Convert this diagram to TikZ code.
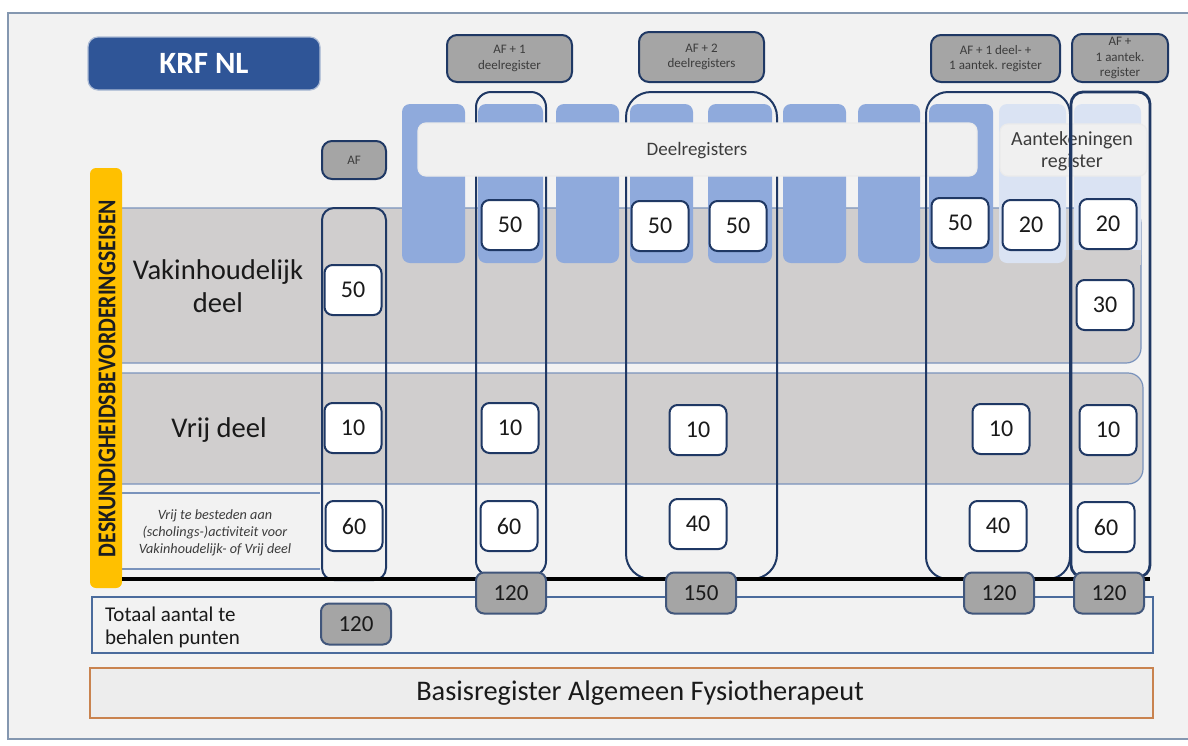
\documentclass[tikz,border=0pt]{standalone}
\usepackage{fontspec}
\usepackage{graphicx}
\setmainfont{Carlito}
\definecolor{bgc}{HTML}{F2F2F2}
\definecolor{framec}{HTML}{8497B0}
\definecolor{navy}{HTML}{1F3864}
\definecolor{krf}{HTML}{2F5597}
\definecolor{hdrgray}{HTML}{A5A5A5}
\definecolor{bandgray}{HTML}{D0CECE}
\definecolor{bandline}{HTML}{7A93BC}
\definecolor{colblue}{HTML}{8FAADC}
\definecolor{collight}{HTML}{DAE3F3}
\definecolor{yell}{HTML}{FFC000}
\definecolor{orng}{HTML}{C9834F}
\definecolor{basisfill}{HTML}{EDEDED}
\definecolor{lineblue}{HTML}{4A6B9C}
\definecolor{txt}{HTML}{1A1A1A}
\definecolor{bannerc}{HTML}{F0F0F0}
\begin{document}
\begin{tikzpicture}[x=0.5pt,y=-0.5pt,
  valbox/.style={draw=navy, line width=1pt, fill=white, rounded corners=4pt,
    minimum width=28.5pt, minimum height=25pt, inner sep=0pt, text=txt,
    font=\fontsize{12}{14}\selectfont},
  totbox/.style={draw=navy!85, line width=1pt, fill=hdrgray, rounded corners=4pt,
    minimum width=35pt, minimum height=20.5pt, inner sep=0pt, text=txt,
    font=\fontsize{11.5}{14}\selectfont},
  hdrbox/.style={draw=navy, line width=1pt, fill=hdrgray, rounded corners=5pt,
    inner sep=0pt, align=center, text=txt!85,
    font=\fontsize{6.5}{7.6}\selectfont},
  bluecol/.style={fill=colblue, rounded corners=4pt},
  lightcol/.style={fill=collight, rounded corners=4pt},
  outl/.style={draw=navy, line width=1pt},
  banner/.style={fill=bannerc, draw=black!8, line width=0.6pt, rounded corners=4pt},
  rowlabel/.style={text=txt, align=center, font=\fontsize{14.3}{16.5}\selectfont}
]
\useasboundingbox (0,0) rectangle (1188,745);
\fill[white] (0,0) rectangle (1188,745);
% outer frame
\draw[framec, fill=bgc, line width=0.8pt] (8,13) rectangle (1200,739);

% bands
\draw[bandline, fill=bandgray, line width=0.6pt, rounded corners=7.5pt] (100,208) rectangle (1141,363);
\draw[bandline, fill=bandgray, line width=0.6pt, rounded corners=7.5pt] (100,373) rectangle (1143,484);
% third row text box lines
\draw[bandline, line width=0.6pt] (122,493) -- (320,493);
\draw[bandline, line width=0.6pt] (122,569) -- (320,569);

% register columns
\foreach \a/\b in {402/465,478/543,556/619,630/693,708/772,783/846,858/920,929/993}
  \fill[bluecol] (\a,104) rectangle (\b,263);
\fill[lightcol] (999,104) rectangle (1066,263);
\fill[lightcol] (1074,104) rectangle (1141,263);
\fill[bandgray] (1074,250) rectangle (1141,265);

% outlines behind banner
\draw[outl, rounded corners=7.5pt] (476,92) rectangle (546,576);
\draw[outl, rounded corners=12.5pt] (626,92) rectangle (777,579);

% banners
\draw[banner] (418,123) rectangle (977,176);
\node[text=txt!85, font=\fontsize{9.5}{11}\selectfont] (deel) at (697,151) {Deelregisters};
\draw[banner] (1000,124) rectangle (1147,176);
\node[text=txt!85, align=center, font=\fontsize{10}{11}\selectfont] (aant) at (1072,151) {Aantekeningen\\register};

% outlines in front
\draw[outl, rounded corners=6pt] (322,208) rectangle (386,580);
\draw[outl, rounded corners=11pt] (926,92) rectangle (1070,579);
\draw[outl, line width=1.4pt, rounded corners=6pt] (1071,92) rectangle (1150,577);

% yellow bar
\fill[yell, rounded corners=3pt] (90,168) rectangle (122,588);
\node[rotate=90, text=txt!90!navy, inner sep=0pt] (desk) at (107,378.5)
  {\resizebox{178.5pt}{8.4pt}{\fontsize{12.5}{14}\selectfont\bfseries DESKUNDIGHEIDSBEVORDERINGSEISEN}};

% row labels
\node[rowlabel] (vak) at (218,286) {Vakinhoudelijk\\deel};
\node[rowlabel] (vrij) at (219,430) {Vrij deel};
\node[text=txt!85, align=center, font=\fontsize{7.1}{8.5}\selectfont\itshape] (vrijte) at (215,533)
  {Vrij te besteden aan\\(scholings-)activiteit voor\\Vakinhoudelijk- of Vrij deel};

% thick line
\draw[black, line width=1.6pt] (122,579) -- (1150,579);

% totaal and basis boxes
\draw[lineblue, fill=bgc, line width=1pt] (92,597) rectangle (1153,653);
\node[anchor=west, align=left, text=txt, font=\fontsize{10.5}{11.5}\selectfont] (tot) at (98,627)
  {Totaal aantal te\\behalen punten};
\draw[orng, fill=basisfill, line width=1pt] (90,668) rectangle (1153,718);
\node[text=txt, font=\fontsize{14.2}{16}\selectfont] (basis) at (640,693) {Basisregister Algemeen Fysiotherapeut};

% KRF NL
\draw[krf!40!white, fill=krf, line width=0.6pt, rounded corners=5pt] (88,37) rectangle (320,90);
\node[text=white, font=\fontsize{15.5}{18}\selectfont\bfseries] (krf) at (204,63.5) {KRF NL};

% header boxes
\node[hdrbox, minimum width=32pt, minimum height=19pt] (hAF) at (354,160) {AF};
\node[hdrbox, minimum width=62.5pt, minimum height=23.5pt] (h1) at (509.5,58.5) {AF + 1\\deelregister};
\node[hdrbox, minimum width=62.5pt, minimum height=25pt] (h2) at (701.5,57) {AF + 2\\deelregisters};
\node[hdrbox, minimum width=64.5pt, minimum height=23.5pt] (h3) at (995.5,58.5) {AF + 1 deel- +\\1 aantek. register};
\node[hdrbox, minimum width=48pt, minimum height=24pt] (h4) at (1120,58) {AF +\\1 aantek.\\register};

% values AF
\node[valbox] (a50) at (353,290) {50};
\node[valbox] (a10) at (353,428) {10};
\node[valbox] (a60) at (354,526) {60};
\node[totbox] (at) at (356,624) {120};
% values AF+1
\node[valbox] (b50) at (510,225) {50};
\node[valbox] (b10) at (510,428) {10};
\node[valbox] (b60) at (509,526) {60};
\node[totbox] (bt) at (511,593) {120};
% values AF+2
\node[valbox] (c50a) at (660,226) {50};
\node[valbox] (c50b) at (738,226) {50};
\node[valbox] (c10) at (698,430) {10};
\node[valbox] (c40) at (698,524) {40};
\node[totbox] (ct) at (701,593) {150};
% values AF+1+1
\node[valbox] (d50) at (960,223) {50};
\node[valbox] (d20) at (1031,225) {20};
\node[valbox] (d10) at (1001,429) {10};
\node[valbox] (d40) at (998,526) {40};
\node[totbox] (dt) at (999,593) {120};
% values AF+1 aantek
\node[valbox] (e20) at (1108,224) {20};
\node[valbox] (e30) at (1105,305) {30};
\node[valbox] (e10) at (1108,430) {10};
\node[valbox] (e60) at (1106,527) {60};
\node[totbox] (et) at (1109,593) {120};
\end{tikzpicture}
\end{document}
